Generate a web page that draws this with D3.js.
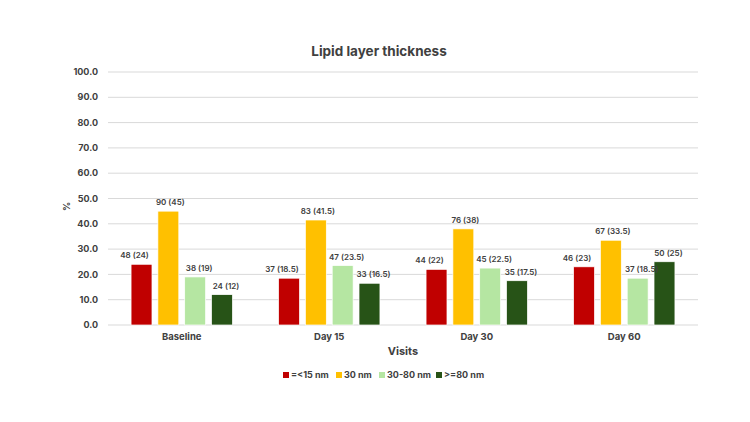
<!DOCTYPE html>
<html>
<head>
<meta charset="utf-8">
<script src="https://cdn.jsdelivr.net/npm/d3@7"></script>
<style>
  body { margin: 0; background: #fff; }
  text { font-family: Inter, "Open Sans", sans-serif; fill: #404040; }
</style>
</head>
<body>
<div id="chart"></div>
<script>
// chart data
var visits = ["Baseline", "Day 15", "Day 30", "Day 60"];
var groups = ["=<15 nm", "30 nm", "30-80 nm", ">=80 nm"];
var percent = [
  [24, 45, 19, 12],
  [18.5, 41.5, 23.5, 16.5],
  [22, 38, 22.5, 17.5],
  [23, 33.5, 18.5, 25]
];
var counts = [
  [48, 90, 38, 24],
  [37, 83, 47, 33],
  [44, 76, 45, 35],
  [46, 67, 37, 50]
];
var yTicks = [0, 10, 20, 30, 40, 50, 60, 70, 80, 90, 100];

var colors = ["#C00000", "#FFC000", "#B5E6A2", "#275317"];
// small horizontal nudges of the labels, per series
var labelNudge = [-7, 2, 4, 4];

var svgWidth = 750, svgHeight = 422;
var margin = { top: 72, right: 52, bottom: 97, left: 108 };
var width = svgWidth - margin.left - margin.right;
var height = svgHeight - margin.top - margin.bottom;

var svg = d3.select("#chart").append("svg")
  .attr("width", svgWidth)
  .attr("height", svgHeight);

var chartGroup = svg.append("g")
  .attr("transform", `translate(${margin.left}, ${margin.top})`);

var x0 = d3.scaleBand()
  .domain(visits)
  .range([0, width])
  .padding(0);

var x1 = d3.scaleBand()
  .domain(groups)
  .range([0, x0.bandwidth()])
  .paddingInner(0.22)
  .paddingOuter(0.86);

var y = d3.scaleLinear()
  .domain([0, 100])
  .range([height, 0]);

// gridlines
chartGroup.selectAll(".grid")
  .data(yTicks)
  .enter()
  .append("line")
  .attr("x1", 0)
  .attr("x2", width)
  .attr("y1", d => y(d))
  .attr("y2", d => y(d))
  .attr("stroke", "#d9d9d9")
  .attr("stroke-width", 1);

// y tick labels
chartGroup.selectAll(".ytick")
  .data(yTicks)
  .enter()
  .append("text")
  .attr("x", -10)
  .attr("y", d => y(d))
  .attr("dy", "0.35em")
  .attr("text-anchor", "end")
  .attr("font-size", "9px")
  .attr("font-weight", "bold")
  .text(d => d.toFixed(1));

// bars
var rows = [];
visits.forEach(function (v, i) {
  groups.forEach(function (g, j) {
    rows.push({ visit: v, group: g, j: j, pct: percent[i][j], n: counts[i][j] });
  });
});

chartGroup.selectAll("rect")
  .data(rows)
  .enter()
  .append("rect")
  .attr("x", d => x0(d.visit) + x1(d.group))
  .attr("y", d => y(d.pct))
  .attr("width", x1.bandwidth())
  .attr("height", d => y(0) - y(d.pct))
  .attr("fill", d => colors[d.j])
  .attr("stroke", "#ffffff")
  .attr("stroke-width", 0.7);

// data labels
chartGroup.selectAll(".barLabel")
  .data(rows)
  .enter()
  .append("text")
  .attr("x", d => x0(d.visit) + x1(d.group) + x1.bandwidth() / 2 + labelNudge[d.j])
  .attr("y", d => y(d.pct) - 6)
  .attr("text-anchor", "middle")
  .attr("font-size", "8px")
  .attr("font-weight", "600")
  .text(d => `${d.n} (${d.pct})`);

// x category labels
chartGroup.selectAll(".xlabel")
  .data(visits)
  .enter()
  .append("text")
  .attr("x", d => x0(d) + x0.bandwidth() / 2)
  .attr("y", height + 15)
  .attr("text-anchor", "middle")
  .attr("font-size", "9.5px")
  .attr("font-weight", "bold")
  .text(d => d);

// axis titles
chartGroup.append("text")
  .attr("x", width / 2)
  .attr("y", height + 30)
  .attr("text-anchor", "middle")
  .attr("font-size", "11px")
  .attr("font-weight", "bold")
  .text("Visits");

chartGroup.append("text")
  .attr("transform", `translate(-38, ${y(50) + 8}) rotate(-90)`)
  .attr("text-anchor", "middle")
  .attr("font-size", "9px")
  .attr("font-weight", "bold")
  .text("%");

// chart title
svg.append("text")
  .attr("x", 379)
  .attr("y", 56)
  .attr("text-anchor", "middle")
  .attr("font-size", "13.5px")
  .attr("font-weight", "bold")
  .text("Lipid layer thickness");

// legend
var legendX = [283, 336, 379, 436];
var legend = svg.selectAll(".legend")
  .data(groups)
  .enter()
  .append("g")
  .attr("transform", (d, i) => `translate(${legendX[i]}, 375)`);

legend.append("rect")
  .attr("x", 0)
  .attr("y", -3)
  .attr("width", 6)
  .attr("height", 6)
  .attr("fill", (d, i) => colors[i]);

legend.append("text")
  .attr("x", 8)
  .attr("y", 0)
  .attr("dy", "0.35em")
  .attr("font-size", "9px")
  .attr("font-weight", "bold")
  .text(d => d);
</script>
</body>
</html>
